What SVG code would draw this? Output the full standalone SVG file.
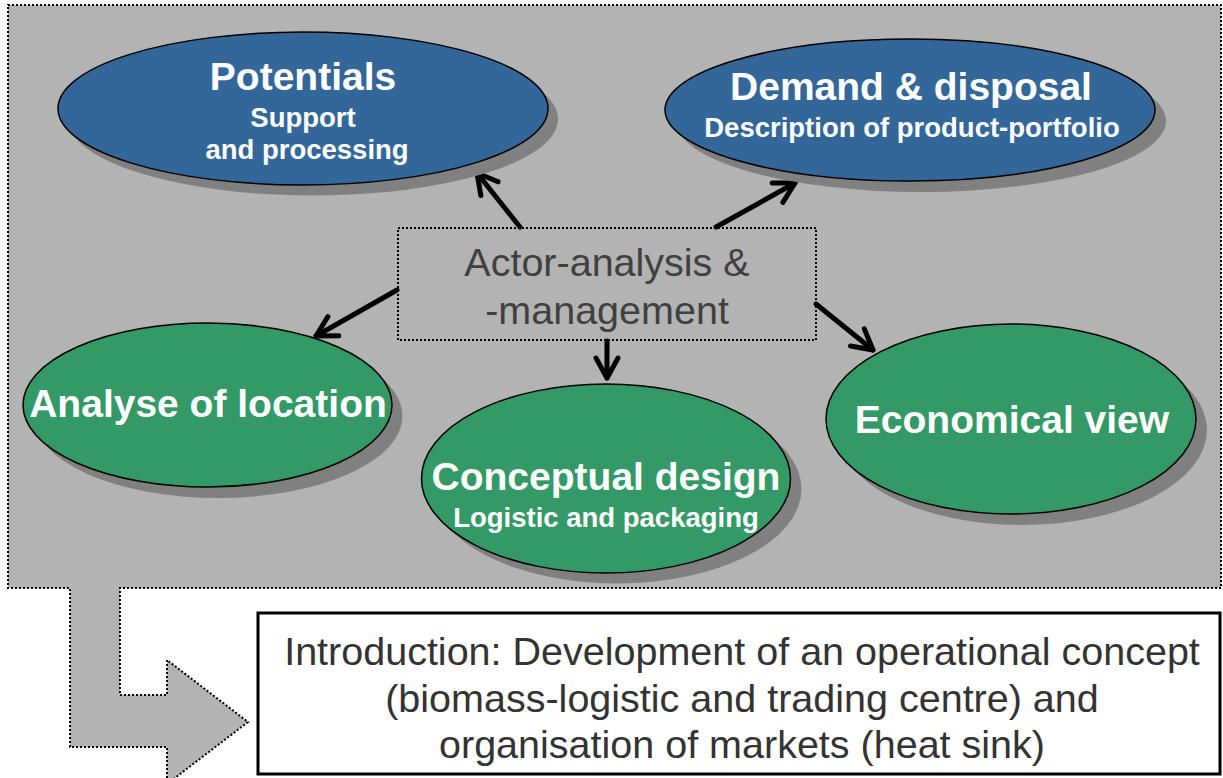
<svg xmlns="http://www.w3.org/2000/svg" width="1223" height="778" viewBox="0 0 1223 778">
  <style>
    .dotted { fill: none; stroke: #000; stroke-width: 2; stroke-dasharray: 2 2; }
    .shadow { fill: #808080; }
    .blue { fill: #336699; stroke: #000; stroke-width: 1.5; }
    .green { fill: #339966; stroke: #000; stroke-width: 1.5; }
    .title { font-family: "Liberation Sans", Arial, sans-serif; font-weight: bold; font-size: 39px; fill: #fff; text-anchor: middle; }
    .sub { font-family: "Liberation Sans", Arial, sans-serif; font-weight: bold; font-size: 27.5px; fill: #fff; text-anchor: middle; }
    .plain { font-family: "Liberation Sans", Arial, sans-serif; font-size: 39.5px; text-anchor: middle; }
    .conn { fill: none; stroke: #000; stroke-width: 5; stroke-linecap: round; }
  </style>
  <defs>
    <marker id="chevron" markerUnits="userSpaceOnUse" markerWidth="40" markerHeight="40" viewBox="-30 -20 40 40" refX="0" refY="0" orient="auto" overflow="visible">
      <path d="M-20,-11 L0,0 L-20,11" fill="none" stroke="#000" stroke-width="5" stroke-linecap="round" stroke-linejoin="round"/>
    </marker>
  </defs>

  <rect width="1223" height="778" fill="#fff"/>

  <!-- grey work area joined with the bent arrow leading to the introduction -->
  <g id="workarea">
    <path d="M8,5 H1221 V588 H120 V695 H167 V660 L248,722 L167,784 V747 H70 V588 H8 Z" fill="#b3b3b3"/>
    <path class="dotted" d="M8,5 H1221 V588 H120 V695 H167 V660 L248,722 L167,784 V747 H70 V588 H8 Z"/>
  </g>

  <!-- connectors -->
  <g id="connectors">
    <line class="conn" x1="520" y1="227" x2="477" y2="173" marker-end="url(#chevron)"/>
    <line class="conn" x1="716" y1="227" x2="795" y2="183" marker-end="url(#chevron)"/>
    <line class="conn" x1="397" y1="290" x2="316" y2="336" marker-end="url(#chevron)"/>
    <line class="conn" x1="816" y1="304" x2="873" y2="350" marker-end="url(#chevron)"/>
    <line class="conn" x1="607" y1="341" x2="607" y2="378" marker-end="url(#chevron)"/>
  </g>

  <g id="potentials">
    <ellipse class="shadow" cx="313" cy="119" rx="245" ry="76.5"/>
    <ellipse class="blue" cx="303" cy="108.5" rx="245" ry="76.5"/>
    <text class="title" x="303" y="90">Potentials</text>
    <text class="sub" x="303" y="127">Support</text>
    <text class="sub" x="307" y="159">and processing</text>
  </g>

  <g id="demand">
    <ellipse class="shadow" cx="921" cy="121" rx="245" ry="71"/>
    <ellipse class="blue" cx="910" cy="110" rx="245" ry="71"/>
    <text class="title" x="911" y="100">Demand &amp; disposal</text>
    <text class="sub" x="912" y="137">Description of product-portfolio</text>
  </g>

  <g id="actor">
    <rect class="dotted" x="398" y="228" width="418" height="112"/>
    <text class="plain" x="607" y="276" fill="#404040">Actor-analysis &amp;</text>
    <text class="plain" x="607" y="324" fill="#404040">-management</text>
  </g>

  <g id="location">
    <ellipse class="shadow" cx="218" cy="416" rx="184.5" ry="82"/>
    <ellipse class="green" cx="207.5" cy="405" rx="184.5" ry="82"/>
    <text class="title" x="208" y="417">Analyse of location</text>
  </g>

  <g id="design">
    <ellipse class="shadow" cx="617" cy="489" rx="184.5" ry="94.5"/>
    <ellipse class="green" cx="606" cy="478.5" rx="184.5" ry="94.5"/>
    <text class="title" x="606" y="490">Conceptual design</text>
    <text class="sub" x="606" y="527">Logistic and packaging</text>
  </g>

  <g id="economical">
    <ellipse class="shadow" cx="1022" cy="430" rx="185" ry="95"/>
    <ellipse class="green" cx="1011" cy="419" rx="185" ry="95"/>
    <text class="title" x="1012" y="433">Economical view</text>
  </g>

  <g id="introduction">
    <rect x="258" y="613" width="962" height="161" fill="#fff" stroke="#000" stroke-width="3"/>
    <text class="plain" x="742" y="665" fill="#333">Introduction: Development of an operational concept</text>
    <text class="plain" x="742" y="712" fill="#333">(biomass-logistic and trading centre) and</text>
    <text class="plain" x="742" y="758" fill="#333">organisation of markets (heat sink)</text>
  </g>
</svg>
